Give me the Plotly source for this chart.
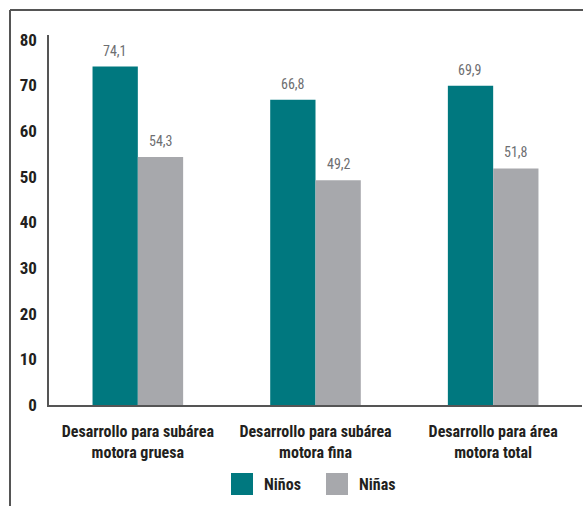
import plotly.graph_objects as go

categories = ["Desarrollo para subárea<br>motora gruesa",
              "Desarrollo para subárea<br>motora fina",
              "Desarrollo para área<br>motora total"]
ninos = [74.1, 66.8, 69.9]
ninas = [54.3, 49.2, 51.8]
yticks = [0, 10, 20, 30, 40, 50, 60, 70, 80]

FONT = "Roboto Condensed, Roboto, sans-serif"
C_NINOS = "#00787f"
C_NINAS = "#a7a8ac"
L, R, T, B, W, H = 49, 1, 35, 101, 583, 506
PW, PH = W - L - R, H - T - B

def px(x):
    return (x - L) / PW

def py(y):
    return (H - B - y) / PH

def fmt(v):
    return f"{v:.1f}".replace(".", ",")

fig = go.Figure()
fig.add_trace(go.Bar(name="Niños", x=categories, y=ninos, marker_color=C_NINOS,
                     marker_line_width=0, showlegend=False))
fig.add_trace(go.Bar(name="Niñas", x=categories, y=ninas, marker_color=C_NINAS,
                     marker_line_width=0, showlegend=False))

annotations = []
for cat, a, b in zip(categories, ninos, ninas):
    for val, shift in ((a, -23), (b, 23)):
        annotations.append(dict(x=cat, y=val, xref="x", yref="y", text=fmt(val),
                                showarrow=False, xshift=shift, yanchor="bottom", yshift=6,
                                font=dict(family=FONT, size=14, color="#6d6e71")))

# legend (manual, to match the large square keys)
legend_items = [("Niños", C_NINOS, 231), ("Niñas", C_NINAS, 326)]
shapes = [
    dict(type="line", xref="paper", yref="paper", x0=px(10), x1=px(584),
         y0=py(10), y1=py(10), line=dict(color="#555555", width=2)),
    dict(type="line", xref="paper", yref="paper", x0=px(10), x1=px(10),
         y0=py(10), y1=py(507), line=dict(color="#555555", width=2)),
]
for name, col, x0 in legend_items:
    shapes.append(dict(type="rect", xref="paper", yref="paper", x0=px(x0), x1=px(x0 + 22),
                       y0=py(495), y1=py(473), fillcolor=col, line=dict(width=0)))
    annotations.append(dict(x=px(x0 + 31), y=py(484), xref="paper", yref="paper", text=name,
                            showarrow=False, xanchor="left", yanchor="middle",
                            font=dict(family=FONT, size=16, color="#231f20", weight="bold")))

fig.update_layout(
    width=W, height=H,
    margin=dict(l=L, r=R, t=T, b=B),
    barmode="group", bargap=0.49, bargroupgap=0,
    plot_bgcolor="white", paper_bgcolor="white",
    font=dict(family=FONT, color="#231f20"),
    showlegend=False,
    xaxis=dict(range=[-0.5, 2.5], showline=True, linecolor="#555555", linewidth=1.5,
               tickfont=dict(family=FONT, size=16, color="#231f20", weight="bold"),
               ticks="", ticklabelstandoff=11, tickangle=0, automargin=False),
    yaxis=dict(range=[0, 81], tickvals=yticks, showgrid=False, zeroline=False,
               showline=True, linecolor="#555555", linewidth=1.5,
               tickfont=dict(family=FONT, size=17, color="#231f20", weight="bold"),
               ticks="", ticklabelstandoff=7, automargin=False),
    shapes=shapes,
    annotations=annotations,
)

fig.write_html("out.html")
